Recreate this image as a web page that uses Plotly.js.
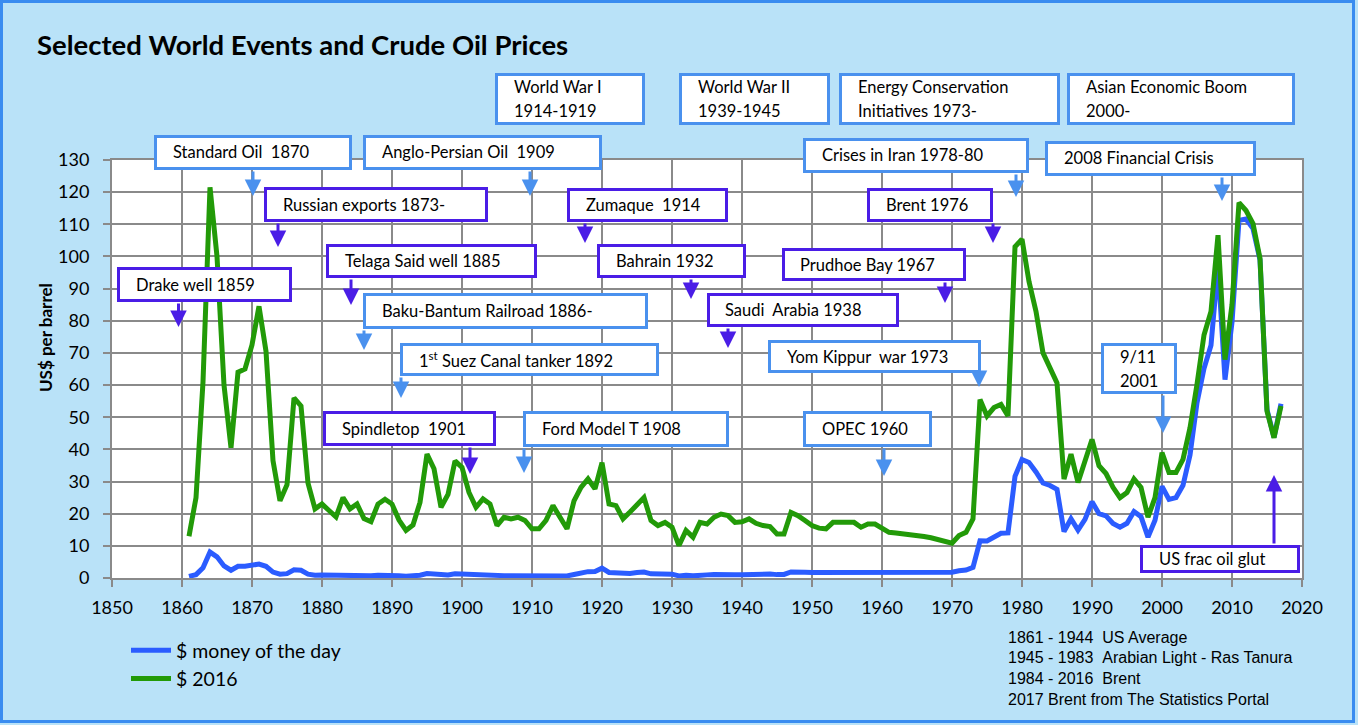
<!DOCTYPE html>
<html><head><meta charset="utf-8">
<script src="https://cdn.plot.ly/plotly-3.0.1.min.js"></script>
<style>html,body{margin:0;padding:0;background:#b9e2f8;} #chart{width:1358px;height:725px;}</style>
</head><body><div id="chart"></div>
<script>
// ---------------- DATA ----------------
const years = [
1861,1862,1863,1864,1865,1866,1867,1868,1869,1870,
1871,1872,1873,1874,1875,1876,1877,1878,1879,1880,
1881,1882,1883,1884,1885,1886,1887,1888,1889,1890,
1891,1892,1893,1894,1895,1896,1897,1898,1899,1900,
1901,1902,1903,1904,1905,1906,1907,1908,1909,1910,
1911,1912,1913,1914,1915,1916,1917,1918,1919,1920,
1921,1922,1923,1924,1925,1926,1927,1928,1929,1930,
1931,1932,1933,1934,1935,1936,1937,1938,1939,1940,
1941,1942,1943,1944,1945,1946,1947,1948,1949,1950,
1951,1952,1953,1954,1955,1956,1957,1958,1959,1960,
1961,1962,1963,1964,1965,1966,1967,1968,1969,1970,
1971,1972,1973,1974,1975,1976,1977,1978,1979,1980,
1981,1982,1983,1984,1985,1986,1987,1988,1989,1990,
1991,1992,1993,1994,1995,1996,1997,1998,1999,2000,
2001,2002,2003,2004,2005,2006,2007,2008,2009,2010,
2011,2012,2013,2014,2015,2016,2017];

const moneyOfTheDay = [
0.49,1.05,3.15,8.06,6.59,3.74,2.41,3.63,3.64,3.86,
4.34,3.64,1.83,1.17,1.35,2.56,2.42,1.19,0.86,0.95,
0.86,0.78,1.00,0.84,0.88,0.71,0.67,0.88,0.94,0.87,
0.67,0.56,0.64,0.84,1.36,1.18,0.79,0.91,1.29,1.19,
0.96,0.80,0.94,0.86,0.62,0.73,0.72,0.72,0.70,0.61,
0.61,0.74,0.95,0.81,0.64,1.10,1.56,1.98,2.01,3.07,
1.73,1.61,1.34,1.43,1.68,1.88,1.30,1.17,1.27,1.19,
0.65,0.87,0.67,1.00,0.97,1.09,1.18,1.13,1.02,1.02,
1.14,1.19,1.20,1.21,1.05,1.12,1.90,1.99,1.78,1.71,
1.71,1.71,1.93,1.93,1.93,1.93,1.90,2.08,2.08,1.90,
1.80,1.80,1.80,1.80,1.80,1.80,1.80,1.80,1.80,1.80,
2.24,2.48,3.29,11.58,11.53,12.80,13.92,14.02,31.61,36.83,
35.93,32.97,29.55,28.78,27.56,14.43,18.44,14.92,18.23,23.73,
20.00,19.32,16.97,15.82,17.02,20.67,19.09,12.72,17.97,28.50,
24.44,25.02,28.83,38.27,54.52,65.14,72.39,97.26,61.67,79.50,
111.26,111.67,108.66,98.95,52.39,43.73,54.19];

const dollars2016 = [
13,25,61,121.5,100,60,40.5,64,65,72.5,
84.5,70.5,36.5,24,29,56,53.5,29.5,21.5,23,
21,19,25,21.5,23,18.5,17.5,23,24.5,23,
18,14.8,16.5,23.5,38.5,34,22,26,36.4,34.4,
26.6,22,24.6,23,16.3,18.9,18.4,18.9,17.9,15.3,
15.3,17.9,22.5,18.9,15.3,24,28.2,30.8,27.7,35.9,
23,22.5,18.4,20.5,22.5,25,17.9,16.3,17.3,15.8,
10.1,14.8,12.7,17.3,16.8,18.9,19.9,19.4,17.3,17.5,
18.4,17,16.3,16,13.7,13.7,20.4,19.4,17.9,16.3,
15.5,15.3,17.3,17.3,17.3,17.3,15.8,16.8,16.8,15.3,
14.2,14,13.8,13.5,13.2,12.9,12.5,12,11.5,10.8,
13.2,14.2,18.4,55.5,50.4,53,54,50.4,103,105.4,
92.2,82.9,70,65.3,60.7,30.8,38.5,29.7,36.4,43.1,
34.9,32.5,28.2,25,26.6,30.8,28.2,18.9,25,39,
32.8,32.8,36.9,46.7,60.2,75.6,82.9,106.6,67.9,85,
116.7,114.3,110.2,99.4,51.9,43.6,53.5];

const seriesNames = ['$ money of the day', '$ 2016'];
const chartTitle = 'Selected World Events and Crude Oil Prices';
const yTitle = 'US$ per barrel';
const sourceNotes = [
  '1861 - 1944\u00a0\u00a0US Average',
  '1945 - 1983\u00a0\u00a0Arabian Light - Ras Tanura',
  '1984 - 2016\u00a0\u00a0Brent',
  '2017 Brent from The Statistics Portal'
];

// ---------------- STYLE / LAYOUT ----------------
const W = 1358, H = 725;
const L = 112, R = 1302, T = 160, B = 578;   // plot area in pixels
const px = x => (x - L) / (R - L);
const py = y => (B - y) / (B - T);

const C_LB = '#4a91ee', C_V = '#4a1de6';
const FONT = 'Lato, "Open Sans", sans-serif';

// event boxes: text lines, colour, box [x0,y0,x1,y1] in pixels, arrow [x, tipY] (pixels)
const events = [
  {t:['World War I','1914-1919'], c:C_LB, b:[495,73,645,125]},
  {t:['World War II','1939-1945'], c:C_LB, b:[679,73,830,125]},
  {t:['Energy Conservation','Initiatives 1973-'], c:C_LB, b:[839,73,1060,125]},
  {t:['Asian Economic Boom','2000-'], c:C_LB, b:[1067,73,1295,125]},
  {t:['Standard Oil\u00a0 1870'], c:C_LB, b:[154,135,352,170], a:[253,196]},
  {t:['Anglo-Persian Oil\u00a0 1909'], c:C_LB, b:[363,135,602,170], a:[530,196]},
  {t:['Crises in Iran 1978-80'], c:C_LB, b:[803,138,1029,173], a:[1016,197]},
  {t:['2008 Financial Crisis'], c:C_LB, b:[1045,141,1256,176], a:[1222,201]},
  {t:['Russian exports 1873-'], c:C_V, b:[264,187,488,222], a:[278,247]},
  {t:['Zumaque\u00a0 1914'], c:C_V, b:[567,188,728,222], a:[585,243]},
  {t:['Brent 1976'], c:C_V, b:[867,188,993,222], a:[993,243]},
  {t:['Telaga Said well 1885'], c:C_V, b:[326,244,537,278], a:[351,305]},
  {t:['Bahrain 1932'], c:C_V, b:[597,244,746,278], a:[691,299]},
  {t:['Prudhoe Bay 1967'], c:C_V, b:[782,248,966,281], a:[945,303]},
  {t:['Drake well 1859'], c:C_V, b:[117,267,292,302], a:[178.5,327]},
  {t:['Baku-Bantum Railroad 1886-'], c:C_LB, b:[363,293,648,329], a:[364,350]},
  {t:['Saudi\u00a0 Arabia 1938'], c:C_V, b:[707,293,899,327], a:[728,348]},
  {t:['1<sup>st</sup> Suez Canal tanker 1892'], c:C_LB, b:[400,343,659,376], a:[401,398]},
  {t:['Yom Kippur\u00a0 war 1973'], c:C_LB, b:[768,340,981,373], a:[979,387]},
  {t:['9/11','2001'], c:C_LB, b:[1101,343,1177,394], a:[1163,433]},
  {t:['Spindletop\u00a0 1901'], c:C_V, b:[323,411,496,446], a:[470,474]},
  {t:['Ford Model T 1908'], c:C_LB, b:[523,411,729,447], a:[524,473]},
  {t:['OPEC 1960'], c:C_LB, b:[803,411,932,447], a:[884,476]},
  {t:['US frac oil glut'], c:C_V, b:[1140,545,1300,573], a:[1274,475], up:true}
];

const shapes = [];
const annotations = [];

// outer frame
shapes.push({type:'rect', xref:'paper', yref:'paper', layer:'below',
  x0:px(1.5), x1:px(W-4.5), y0:py(1.5), y1:py(H-3.5),
  line:{color:'#3a8cf0', width:3}, fillcolor:'rgba(0,0,0,0)'});

events.forEach(e => {
  const [x0,y0,x1,y1] = e.b;
  shapes.push({type:'rect', xref:'paper', yref:'paper', layer:'above',
    x0:px(x0+1.5), x1:px(x1-1.5), y0:py(y0+1.5), y1:py(y1-1.5),
    line:{color:e.c, width:3}, fillcolor:'#ffffff'});
  const cy = (y0+y1)/2, n = e.t.length, gap = 24;
  e.t.forEach((line, i) => {
    annotations.push({xref:'paper', yref:'paper', x:px(x0+16.5), y:py(cy + (i-(n-1)/2)*gap),
      xanchor:'left', yanchor:'middle', align:'left', showarrow:false, text:line,
      font:{family:FONT, size:16.5, color:'#000'}});
  });
  if (e.a) {
    const tail = e.up ? y0 : y1;
    annotations.push({xref:'paper', yref:'paper', x:px(e.a[0]), y:py(e.a[1]),
      text:'', showarrow:true, ax:0, ay:tail - e.a[1],
      arrowcolor:e.c, arrowwidth:3, arrowhead:2, arrowsize:1.1});
  }
});

// y-axis title
annotations.push({xref:'paper', yref:'paper', x:px(45), y:py(338), xanchor:'center', yanchor:'middle',
  showarrow:false, textangle:-90, text:'<b>'+yTitle+'</b>', font:{family:FONT, size:17, color:'#000'}});

// notes
const noteY = [637, 657, 678, 699];
sourceNotes.forEach((s,i) => annotations.push({xref:'paper', yref:'paper', x:px(1006), y:py(noteY[i]),
  xanchor:'left', yanchor:'middle', showarrow:false, text:s,
  font:{family:'"Liberation Sans", Arial, sans-serif', size:16, color:'#000'}}));

const traces = [
  {x:years, y:moneyOfTheDay, name:seriesNames[0], type:'scatter', mode:'lines',
   line:{color:'#2b5cff', width:5}},
  {x:years, y:dollars2016, name:seriesNames[1], type:'scatter', mode:'lines',
   line:{color:'#229a08', width:5}}
];

const axisCommon = {
  ticks:'outside', ticklen:7, tickwidth:2, tickcolor:'#8a8a8a',
  showgrid:true, gridcolor:'#8a8a8a', gridwidth:2,
  showline:true, linecolor:'#8a8a8a', linewidth:2, mirror:true, zeroline:false,
  tickfont:{family:FONT, size:18, color:'#000'}, fixedrange:true
};

const layout = {
  width:W, height:H,
  margin:{l:L, r:W-R, t:T, b:H-B, pad:0},
  paper_bgcolor:'#b9e2f8', plot_bgcolor:'#ffffff',
  title:{text:'<b>'+chartTitle+'</b>', font:{family:FONT, size:27.5, color:'#000'},
    xref:'container', yref:'container', x:37/W, xanchor:'left', y:1-45/H, yanchor:'middle'},
  xaxis:Object.assign({}, axisCommon, {range:[1850,2020], tick0:1850, dtick:10, ticklabelstandoff:5}),
  yaxis:Object.assign({}, axisCommon, {range:[0,130], tick0:0, dtick:10, ticklabelstandoff:10}),
  showlegend:true,
  legend:{x:px(126), y:py(631), xanchor:'left', yanchor:'top', bgcolor:'rgba(0,0,0,0)',
    font:{family:FONT, size:19.5, color:'#000'}, traceorder:'normal', itemwidth:40},
  shapes:shapes, annotations:annotations
};

Plotly.newPlot('chart', traces, layout, {staticPlot:true, displayModeBar:false});
</script>
</body></html>
